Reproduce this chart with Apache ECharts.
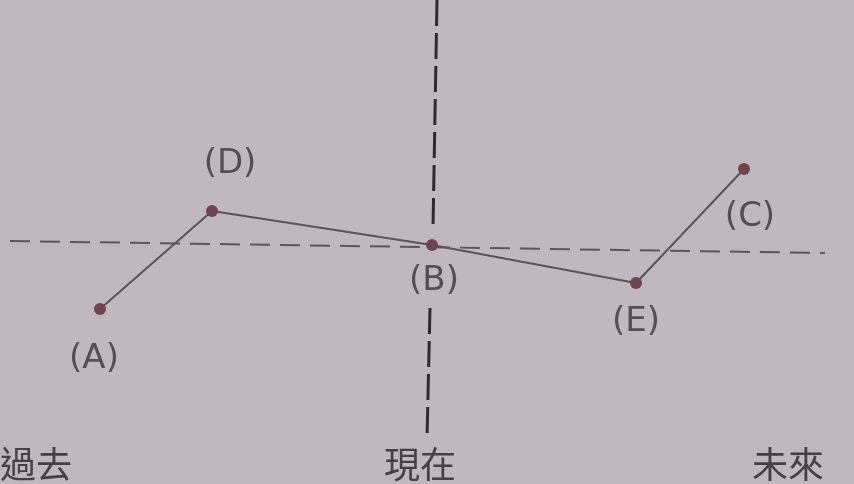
<!DOCTYPE html>
<html><head><meta charset="utf-8">
<script src="https://cdn.jsdelivr.net/npm/echarts@6/dist/echarts.min.js"></script>
<style>html,body{margin:0;padding:0;background:#c0b8bc}#c{width:854px;height:484px}</style>
</head><body><div id="c"></div>
<script>
// Data (time on x: present = 0; state on y: baseline = 0)
const pointNames = ['(A)', '(D)', '(B)', '(E)', '(C)'];
const pointX = [-8.3, -5.5, 0, 5.1, 7.8];
const pointY = [-1.6, 0.85, 0, -0.95, 1.9];
const periodLabels = ['過去', '現在', '未來'];
const periodX = [-9.9, -0.3, 8.9];
const baselineX = [-10.55, 9.825];
const baselineY = [0.1, -0.2];
const presentUpperX = [0.125, 0.025];
const presentUpperY = [6.125, 0.425];
const presentLowerX = [-0.05, -0.125];
const presentLowerY = [-1.575, -4.85];

const labelOffsets = {'(A)': [-6, 50], '(D)': [18, -47], '(B)': [2, 36], '(E)': [0, 39], '(C)': [6, 48]};

const chart = echarts.init(document.getElementById('c'));
const zip = (xs, ys) => xs.map((x, i) => [x, ys[i]]);
const dashedSeries = (data, color, width, dash) => ({
  type: 'line', data, symbol: 'none', silent: true, z: 1,
  lineStyle: {color, width, type: dash}
});

chart.setOption({
  backgroundColor: '#c0b8bc',
  animation: false,
  grid: {left: 0, right: 0, top: 0, bottom: 40, containLabel: false, outerBoundsMode: 'none'},
  xAxis: {
    type: 'value', min: -10.8, max: 10.55,
    axisLine: {show: false}, axisTick: {show: false}, splitLine: {show: false},
    axisLabel: {
      customValues: periodX,
      margin: 2,
      hideOverlap: false,
      formatter: v => { const i = periodX.findIndex(p => Math.abs(p - v) < 1e-6); return i >= 0 ? periodLabels[i] : ''; },
      fontFamily: '"Noto Sans CJK TC", "Noto Sans CJK SC", sans-serif',
      fontSize: 36, color: '#474043'
    }
  },
  yAxis: {
    type: 'value', min: -4.975, max: 6.125,
    show: false, splitLine: {show: false}
  },
  series: [
    dashedSeries(zip(baselineX, baselineY), '#5e5659', 2, [20, 10]),
    dashedSeries(zip(presentUpperX, presentUpperY), '#2f2a2d', 3, [26, 7]),
    dashedSeries(zip(presentLowerX, presentLowerY), '#2f2a2d', 3, [26, 7]),
    {
      type: 'line', z: 3,
      data: pointNames.map((n, i) => ({
        name: n, value: [pointX[i], pointY[i]],
        label: {offset: labelOffsets[n]}
      })),
      symbol: 'circle', symbolSize: 12,
      itemStyle: {color: '#6d4450'},
      lineStyle: {color: '#5d5357', width: 2},
      label: {
        show: true, position: 'inside',
        formatter: p => p.name,
        fontFamily: '"DejaVu Sans", sans-serif', fontSize: 34, color: '#554e52'
      }
    }
  ]
});
</script></body></html>
